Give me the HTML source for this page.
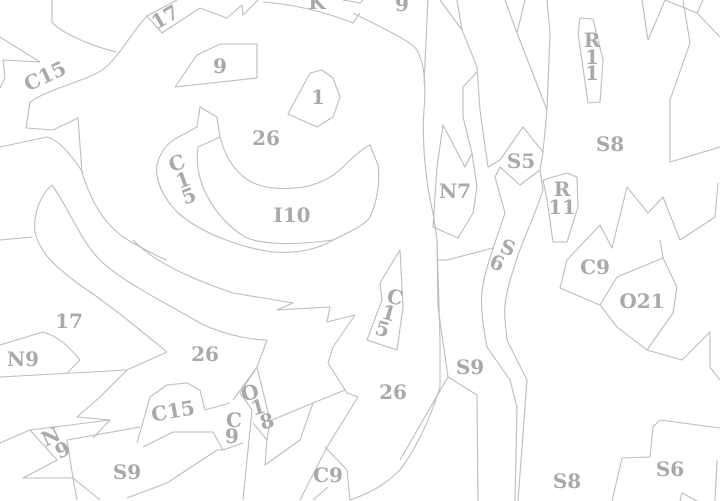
<!DOCTYPE html>
<html><head><meta charset="utf-8"><style>
html,body{margin:0;padding:0;background:#fff;width:720px;height:501px;overflow:hidden}
svg{display:block}
text{font-family:"DejaVu Serif","Liberation Serif",serif;font-weight:bold;font-size:20px;fill:#a9a9a9;text-anchor:middle;dominant-baseline:central}
</style></head><body>
<svg width="720" height="501" viewBox="0 0 720 501" xmlns="http://www.w3.org/2000/svg">
<g fill="none" stroke="#bdbdbd" stroke-width="1.1" stroke-linejoin="round">
<path d="M52,0 L52,22 C60,32 90,46 117,52"/>
<path d="M0,37 L40,62 L3,60 L5,78 L0,88"/>
<path d="M177,0 L147,16 L162,33 L200,8 L227,18 L242,5 L243,15 L258,0"/>
<path d="M263,2 C290,4 320,10 353,23 L360,13 M343,0 L360,3 L363,0"/>
<path d="M147,16 C135,28 120,55 105,68 C90,80 50,88 30,102 L26,128 L53,130 L78,118 L82,173 C90,195 100,225 133,243 C150,252 160,258 167,260"/>
<path d="M0,147 L47,137 C60,140 75,160 83,173"/>
<path d="M52,185 C40,195 33,215 35,232 C40,255 60,270 80,285 C110,305 140,330 167,352"/>
<path d="M52,185 C70,210 80,240 100,260 C120,280 160,300 200,323 C230,338 260,340 267,340 L257,367 L233,400"/>
<path d="M0,240 L33,237"/>
<path d="M133,240 C150,258 180,275 233,293 L293,303 L277,310 L330,307 L327,322 L355,315 L333,347 L328,363 L347,393 L358,397 L327,447 L300,500"/>
<path d="M175,87 L197,55 L220,44 L257,44 L257,78 Z"/>
<path d="M288,114 L310,73 L322,70 L333,78 L340,97 L333,117 L317,127 Z"/>
<path d="M200,107 L197,127 L173,140 C160,150 155,165 157,175 C160,195 175,212 187,220 C205,233 240,248 273,252 C300,254 320,248 333,240 C350,232 365,225 370,217 C378,200 380,180 378,165 L370,145 C360,150 350,160 343,167 C330,180 310,188 293,188 C275,190 257,187 245,178 C232,168 225,155 220,137 L217,117 Z"/>
<path d="M220,137 L198,147 C196,160 198,175 203,187 C210,205 225,225 245,237 C260,244 290,246 333,240"/>
<path d="M353,13 C380,27 410,40 417,50 C425,65 426,85 424,110 C422,140 425,180 433,213 L437,240 L440,340 L440,387"/>
<path d="M428,0 L424,83"/>
<path d="M440,387 C430,420 415,450 400,470 C385,485 370,493 350,500"/>
<path d="M0,345 L43,332 C60,337 70,348 80,360 L67,373"/>
<path d="M0,377 L127,370 L167,352"/>
<path d="M127,370 L100,397 L77,417 L110,420 L93,438"/>
<path d="M137,443 L150,397 L167,385 L187,383 L200,390 L205,410 L230,403"/>
<path d="M143,447 L173,432 L213,432 L223,450 L243,443"/>
<path d="M0,443 L30,430 L110,420"/>
<path d="M30,430 L57,460 L23,478 L73,478 L77,500"/>
<path d="M67,440 L73,478 L100,500"/>
<path d="M67,440 L140,427"/>
<path d="M127,498 L167,483 L217,450 L223,450"/>
<path d="M257,367 L240,393 L252,410 L243,500"/>
<path d="M257,367 L270,420 L267,440"/>
<path d="M267,422 L313,403 L300,440 L265,465 L267,440 L253,423"/>
<path d="M313,403 L345,390"/>
<path d="M325,447 L347,470 L350,500 M328,487 L313,500"/>
<path d="M380,283 L400,250 L403,307 L397,350 L367,340 L382,300 Z"/>
<path d="M440,0 L462,30 L477,67 L480,110 L488,167"/>
<path d="M457,0 L462,30"/>
<path d="M488,167 L500,160 L523,127 L543,152 L540,170 L520,185 L500,167"/>
<path d="M477,72 L463,87 L463,117 L472,153 L465,167 L443,125 L437,167 L433,227 L458,238 L473,213 L477,187 L472,153"/>
<path d="M505,0 L517,33 L547,110 L543,152 M517,33 L525,0 M547,0 L550,33 L547,110"/>
<path d="M500,167 L495,177 L505,213 C498,235 490,255 485,275 C480,295 480,310 487,347 L510,380 L517,407 L515,501"/>
<path d="M540,170 L543,190 C535,215 525,235 518,255 C510,280 503,300 505,320 L507,340 L527,380 L518,501"/>
<path d="M437,260 L447,260 L493,248"/>
<path d="M543,180 L567,173 L577,177 L578,207 L567,242 L553,242 L547,200 Z"/>
<path d="M580,18 L593,19 L603,60 L600,102 L588,103 L578,33 Z"/>
<path d="M642,0 L648,40 L665,0 L697,13 L703,0 M697,13 L720,37"/>
<path d="M683,0 L690,43 L670,100 L670,162 L720,147"/>
<path d="M567,260 L600,225 L612,248 L627,187 L648,213 L663,197 L680,240 L715,217 L718,183"/>
<path d="M567,260 L560,288 L600,305 L617,327 L647,350 L682,360 L710,332 L710,367 L720,380"/>
<path d="M600,305 L617,277 L663,258 L677,287 L673,313 L647,350 M663,258 L660,240"/>
<path d="M437,240 L438,307 L448,377 L400,460 M448,377 L477,395 L478,501"/>
<path d="M612,501 L622,458 L650,457 L653,427 L660,420 L720,428"/>
<path d="M717,460 L715,501 M680,501 L682,493 L697,501"/>
</g>
<text x="165" y="17" transform="rotate(-30 165 17)">17</text>
<text x="317" y="2">K</text>
<text x="402" y="4">9</text>
<text x="220" y="66">9</text>
<text x="45" y="76" transform="rotate(-25 45 76)">C15</text>
<text x="318" y="97">1</text>
<text x="266" y="138">26</text>
<g transform="rotate(-20 183 180)"><text x="183" y="162">C</text><text x="183" y="180">1</text><text x="183" y="197">5</text></g>
<text x="292" y="215">I10</text>
<text x="455" y="191">N7</text>
<text x="521" y="161">S5</text>
<text x="592" y="40">R</text><text x="592" y="57">1</text><text x="592" y="73">1</text>
<text x="610" y="144">S8</text>
<text x="562" y="189">R</text><text x="562" y="207">11</text>
<g transform="rotate(20 502 255)"><text x="505" y="246">S</text><text x="500" y="264">6</text></g>
<text x="595" y="267">C9</text>
<text x="642" y="301">O21</text>
<g transform="rotate(15 389 312)"><text x="391" y="296">C</text><text x="389" y="313">1</text><text x="387" y="330">5</text></g>
<text x="69" y="321">17</text>
<text x="23" y="359">N9</text>
<text x="205" y="354">26</text>
<text x="173" y="411" transform="rotate(-10 173 411)">C15</text>
<text x="234" y="420">C</text><text x="232" y="436">9</text>
<g transform="rotate(-15 258 407)"><text x="254" y="391">O</text><text x="258" y="407">1</text><text x="263" y="423">8</text></g>
<g transform="rotate(-25 56 443)"><text x="54" y="435">N</text><text x="59" y="452">9</text></g>
<text x="127" y="472">S9</text>
<text x="328" y="475">C9</text>
<text x="393" y="392">26</text>
<text x="470" y="367">S9</text>
<text x="567" y="481">S8</text>
<text x="670" y="469">S6</text>
</svg>
</body></html>
